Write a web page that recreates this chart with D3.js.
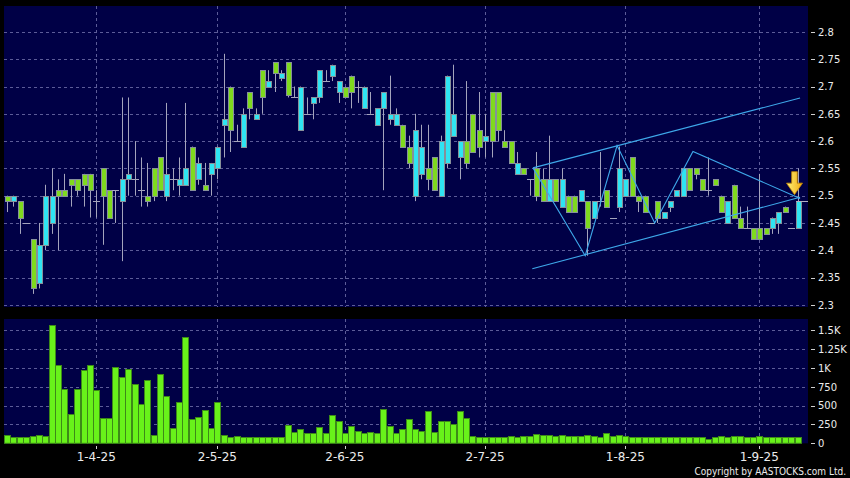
<!DOCTYPE html>
<html><head><meta charset="utf-8">
<script src="https://cdn.jsdelivr.net/npm/d3@7"></script>
<style>html,body{margin:0;padding:0;background:#000;}svg{display:block}</style>
</head><body><svg id="c" width="850" height="478"></svg>
<script>
// ---- data (one slot per trading day) ----
const openP = [2.50,2.49,2.49,2.45,2.42,2.34,2.41,2.45,2.51,2.51,2.53,2.53,2.54,2.54,2.49,2.55,2.51,2.51,2.49,2.53,
2.53,2.51,2.50,2.55,2.57,2.50,2.53,2.52,2.52,2.59,2.53,2.52,2.54,2.55,2.63,2.70,2.60,2.59,2.69,2.64,
2.73,2.70,2.745,2.715,2.745,2.68,2.62,2.65,2.67,2.68,2.71,2.72,2.69,2.70,2.72,2.70,2.66,2.65,2.63,2.66,
2.64,2.63,2.63,2.59,2.50,2.54,2.55,2.57,2.50,2.56,2.61,2.57,2.60,2.65,2.62,2.60,2.69,2.69,2.60,2.60,
2.54,2.55,2.53,2.55,2.53,2.49,2.53,2.48,2.50,2.50,2.49,2.49,2.46,2.49,2.51,2.46,2.48,2.50,2.57,2.50,
2.50,2.45,2.49,2.46,2.48,2.50,2.50,2.55,2.55,2.53,2.51,2.53,2.50,2.45,2.52,2.46,2.44,2.44,2.44,2.44,
2.44,2.45,2.48,2.44,2.44];
const highP = [2.50,2.50,2.49,2.45,2.42,2.45,2.52,2.55,2.53,2.54,2.53,2.53,2.54,2.54,2.51,2.55,2.51,2.51,2.68,2.68,
2.60,2.57,2.56,2.55,2.57,2.67,2.55,2.57,2.67,2.59,2.57,2.56,2.56,2.59,2.76,2.70,2.63,2.66,2.69,2.66,
2.73,2.73,2.745,2.73,2.745,2.70,2.70,2.68,2.68,2.73,2.73,2.74,2.71,2.70,2.72,2.71,2.70,2.69,2.66,2.69,
2.72,2.66,2.63,2.61,2.65,2.63,2.63,2.57,2.61,2.72,2.74,2.60,2.71,2.65,2.69,2.65,2.69,2.69,2.62,2.60,
2.58,2.55,2.53,2.58,2.55,2.61,2.53,2.55,2.50,2.50,2.51,2.49,2.49,2.58,2.51,2.46,2.59,2.53,2.57,2.50,
2.50,2.45,2.49,2.47,2.49,2.51,2.55,2.55,2.55,2.53,2.57,2.53,2.50,2.49,2.52,2.48,2.48,2.44,2.54,2.44,
2.46,2.47,2.48,2.44,2.55];
const lowP = [2.47,2.48,2.43,2.45,2.32,2.33,2.40,2.43,2.40,2.50,2.48,2.50,2.48,2.46,2.46,2.41,2.46,2.45,2.38,2.50,
2.50,2.48,2.48,2.49,2.51,2.49,2.51,2.50,2.52,2.51,2.52,2.51,2.50,2.53,2.57,2.58,2.60,2.59,2.64,2.64,
2.65,2.70,2.69,2.71,2.68,2.68,2.62,2.65,2.64,2.67,2.71,2.71,2.67,2.68,2.66,2.67,2.66,2.65,2.63,2.51,
2.63,2.63,2.59,2.55,2.49,2.53,2.51,2.51,2.50,2.55,2.61,2.53,2.55,2.58,2.57,2.57,2.57,2.60,2.59,2.56,
2.54,2.54,2.50,2.49,2.49,2.49,2.49,2.48,2.47,2.47,2.49,2.39,2.46,2.48,2.48,2.46,2.47,2.50,2.50,2.47,
2.47,2.45,2.45,2.46,2.47,2.50,2.50,2.51,2.53,2.51,2.50,2.52,2.47,2.45,2.46,2.44,2.44,2.42,2.42,2.43,
2.43,2.43,2.47,2.44,2.44];
const closeP = [2.49,2.50,2.46,2.45,2.33,2.41,2.50,2.50,2.50,2.50,2.52,2.51,2.52,2.51,2.49,2.50,2.46,2.51,2.53,2.54,
2.53,2.51,2.49,2.50,2.51,2.54,2.53,2.53,2.55,2.51,2.56,2.51,2.56,2.59,2.64,2.62,2.60,2.65,2.66,2.65,
2.68,2.71,2.725,2.725,2.685,2.68,2.70,2.65,2.68,2.73,2.71,2.74,2.71,2.68,2.69,2.70,2.70,2.65,2.66,2.69,
2.65,2.65,2.59,2.56,2.62,2.59,2.53,2.51,2.60,2.72,2.65,2.60,2.56,2.58,2.59,2.61,2.60,2.62,2.59,2.56,
2.56,2.54,2.53,2.50,2.49,2.53,2.49,2.53,2.47,2.47,2.51,2.44,2.49,2.49,2.48,2.46,2.55,2.53,2.50,2.49,
2.47,2.45,2.46,2.47,2.49,2.51,2.55,2.51,2.54,2.51,2.51,2.52,2.47,2.49,2.46,2.44,2.44,2.42,2.42,2.43,
2.46,2.47,2.47,2.44,2.49];
const volume = [107,84,84,84,93,111,93,1572,1035,724,391,724,972,1039,706,342,333,1017,884,990,
781,519,839,111,924,622,204,546,1412,329,346,440,204,546,115,89,93,84,80,80,
84,84,84,84,244,147,195,138,138,218,142,373,297,133,226,160,133,151,138,453,
226,133,191,329,191,164,435,147,293,293,253,431,333,98,84,84,84,80,84,102,
89,93,93,120,115,115,98,107,93,93,102,111,93,84,142,98,107,93,89,89,
89,89,84,84,84,84,80,80,84,84,62,89,93,89,93,98,89,89,93,84,
84,89,84,84,84];
const tickIndex = [14,33,53,75,97,118];
const tickLabels = ["1-4-25","2-5-25","2-6-25","2-7-25","1-8-25","1-9-25"];
const priceTicks = [2.3,2.35,2.4,2.45,2.5,2.55,2.6,2.65,2.7,2.75,2.8];
const volTicks = [0,250,500,750,1000,1250,1500];
const volTickLabels = ["0","250","500","750","1K","1.25K","1.5K"];
// drawn trend lines: [slot index, price]
const channelUpper = [[82.5,2.551],[124.4,2.679]];
const channelLower = [[82.4,2.366],[124.4,2.497]];
const zigzag = [[82.5,2.551],[90.7,2.390],[95.7,2.592],[101.6,2.450],[107.6,2.581],[124.4,2.495]];

// ---- layout ----
const L = 4, R = 808, pTop = 6, pBot = 307, vTop = 319, vBot = 443.3;
const svg = d3.select("#c");
svg.append("rect").attr("width",850).attr("height",478).attr("fill","#000");

const x = d3.scaleLinear().domain([0,124]).range([7,797.5]);
const y = d3.scaleLinear().domain([2.296,2.8476]).range([pBot,pTop]);
const yv = d3.scaleLinear().domain([0,1650]).range([vBot,vTop]);

const navy = "#000046", gridC = "#5c5c98";
svg.append("rect").attr("x",L).attr("y",pTop).attr("width",R-L).attr("height",pBot-pTop).attr("fill",navy);
svg.append("rect").attr("x",L).attr("y",vTop).attr("width",R-L).attr("height",vBot-vTop).attr("fill",navy);

const px = v => Math.round(v)+0.5;
// grids
const g = svg.append("g").attr("stroke",gridC).attr("stroke-width",1).attr("stroke-dasharray","3,3");
priceTicks.forEach(t=>g.append("line").attr("x1",L).attr("x2",R).attr("y1",px(y(t))).attr("y2",px(y(t))));
volTicks.filter(t=>t>0).forEach(t=>g.append("line").attr("x1",L).attr("x2",R).attr("y1",px(yv(t))).attr("y2",px(yv(t))));
tickIndex.forEach(i=>{
  g.append("line").attr("x1",px(x(i))).attr("x2",px(x(i))).attr("y1",pTop).attr("y2",pBot);
  g.append("line").attr("x1",px(x(i))).attr("x2",px(x(i))).attr("y1",vTop).attr("y2",vBot);
});

// candles
const cyan = "#2fe4f2", green = "#7fda1e", wickC = "#a4a4bc", edge = "#86909a";
const idx = d3.range(openP.length);
const cg = svg.append("g");
idx.forEach(i=>{
  const cx = Math.round(x(i));
  cg.append("line").attr("x1",cx+0.5).attr("x2",cx+0.5)
    .attr("y1",y(highP[i])).attr("y2",y(lowP[i])).attr("stroke",wickC).attr("stroke-width",1);
});
idx.forEach(i=>{
  const cx = Math.round(x(i));
  const o = openP[i], c = closeP[i];
  if (o === c) {
    cg.append("line").attr("x1",cx-3).attr("x2",cx+4).attr("y1",px(y(o))).attr("y2",px(y(o)))
      .attr("stroke",wickC).attr("stroke-width",1);
  } else {
    const top = Math.round(y(Math.max(o,c))), bot = Math.round(y(Math.min(o,c)));
    cg.append("rect").attr("x",cx-2+0.5).attr("y",top+0.5).attr("width",5).attr("height",Math.max(1,bot-top))
      .attr("fill", c>o ? cyan : green).attr("stroke",edge).attr("stroke-width",1);
  }
});
// last price marker
const last = openP.length-1;
svg.append("line").attr("x1",Math.round(x(last))-2).attr("x2",R).attr("y1",px(y(closeP[last]))).attr("y2",px(y(closeP[last])))
  .attr("stroke","#b0b0c0").attr("stroke-width",1);

// trend lines
const line = d3.line().x(d=>x(d[0])).y(d=>y(d[1]));
const tl = svg.append("g").attr("fill","none").attr("stroke","#3ea8ea").attr("stroke-width",1.1);
[channelUpper,channelLower,zigzag].forEach(d=>tl.append("path").attr("d",line(d)));

// arrow
const defs = svg.append("defs");
const grad = defs.append("linearGradient").attr("id","ag").attr("x1","0").attr("x2","1").attr("y1","0").attr("y2","0");
grad.append("stop").attr("offset","0").attr("stop-color","#fff27a");
grad.append("stop").attr("offset","1").attr("stop-color","#f2aa10");
const ax = x(last)-3, aTop = y(2.544), aTip = y(2.502), aMid = aTop + (aTip-aTop)*0.5;
svg.append("path").attr("d",`M${ax-2.8},${aTop} L${ax+2.8},${aTop} L${ax+2.8},${aMid} L${ax+8},${aMid} L${ax},${aTip} L${ax-8},${aMid} L${ax-2.8},${aMid} Z`)
  .attr("fill","url(#ag)").attr("stroke","#c98a00").attr("stroke-width",0.8);

// volume bars
svg.append("g").selectAll("rect").data(d3.range(volume.length).filter(i=>volume[i]>0)).join("rect")
  .attr("x",i=>Math.round(x(i))-2.5).attr("width",6)
  .attr("y",i=>Math.round(yv(volume[i]))+0.5).attr("height",i=>vBot-Math.round(yv(volume[i]))-0.5)
  .attr("fill","#68f21a").attr("stroke","#3d8a18").attr("stroke-width",1);

// axes text
const font = "DejaVu Sans, Verdana, sans-serif";
const ta = svg.append("g").attr("fill","#ececec").attr("font-family",font);
priceTicks.forEach(t=>{
  svg.append("line").attr("x1",811).attr("x2",815).attr("y1",px(y(t))).attr("y2",px(y(t))).attr("stroke","#cfcfcf");
  ta.append("text").attr("x",818).attr("y",y(t)+3.8).attr("font-size",10).text(d3.format("")(t));
});
volTicks.forEach((t,k)=>{
  svg.append("line").attr("x1",811).attr("x2",815).attr("y1",px(yv(t))).attr("y2",px(yv(t))).attr("stroke","#cfcfcf");
  ta.append("text").attr("x",818).attr("y",yv(t)+3.8).attr("font-size",10).text(volTickLabels[k]);
});
tickIndex.forEach((i,k)=>{
  svg.append("line").attr("x1",px(x(i))).attr("x2",px(x(i))).attr("y1",446).attr("y2",449).attr("stroke","#cfcfcf");
  ta.append("text").attr("x",x(i)).attr("y",461.3).attr("font-size",12).attr("text-anchor","middle").text(tickLabels[k]);
});
svg.append("text").attr("x",846).attr("y",475).attr("text-anchor","end")
  .attr("font-family","'DejaVu Sans Condensed', 'Liberation Sans', Arial, sans-serif")
  .attr("font-size",10).attr("fill","#ececec").text("Copyright by AASTOCKS.com Ltd.");
</script></body></html>
